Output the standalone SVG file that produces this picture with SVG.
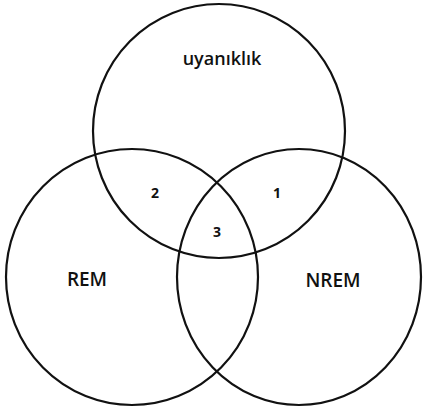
<svg xmlns="http://www.w3.org/2000/svg" width="423" height="412" viewBox="0 0 423 412">
<style>
.c{fill:none;stroke:#111;stroke-width:2.2}
.t{font-family:"Open Sans","Liberation Sans",sans-serif;fill:#111;text-anchor:middle}
.lbl{font-size:18px;font-weight:600}
.num{font-size:14px;font-weight:bold}
</style>
<rect width="423" height="412" fill="#fff"/>
<g id="uyaniklik">
<ellipse class="c" cx="219" cy="131" rx="126" ry="127"/>
<text class="t lbl" x="222" y="65">uyanıklık</text>
</g>
<g id="rem">
<ellipse class="c" cx="132" cy="277" rx="126" ry="128"/>
<text class="t lbl" x="87" y="286" style="font-size:19px">REM</text>
</g>
<g id="nrem">
<ellipse class="c" cx="299" cy="277" rx="122" ry="128"/>
<text class="t lbl" x="333" y="287" style="font-size:19px">NREM</text>
</g>
<g id="regions">
<text class="t num" x="155" y="198">2</text>
<text class="t num" x="277" y="198">1</text>
<text class="t num" x="217" y="237">3</text>
</g>
<g id="connectors"/>
</svg>
